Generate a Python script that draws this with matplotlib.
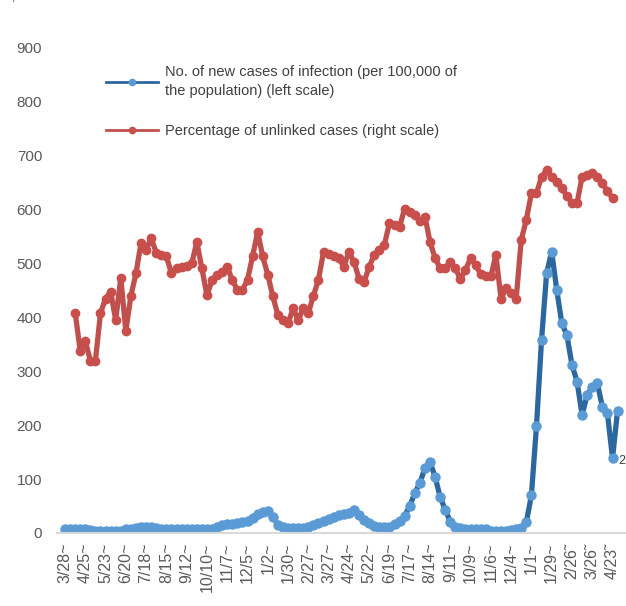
import matplotlib
matplotlib.use("Agg")
import matplotlib.pyplot as plt

plt.rcParams["font.family"] = ["Liberation Sans", "DejaVu Sans"]

# weekly data, week 0 = 3/28
tick_labels = ["3/28~", "4/25~", "5/23~", "6/20~", "7/18~", "8/15~", "9/12~",
               "10/10~", "11/7~", "12/5~", "1/2~", "1/30~", "2/27~", "3/27~",
               "4/24~", "5/22~", "6/19~", "7/17~", "8/14~", "9/11~", "10/9~",
               "11/6~", "12/4~", "1/1~", "1/29~", "2/26\u02dc", "3/26\u02dc", "4/23\u02dc"]

new_cases = [8, 8, 8, 8, 8, 5, 3, 3, 3, 4,
             4, 4, 7, 8, 10, 12, 12, 12, 10, 8,
             7, 7, 7, 7, 7, 7, 7, 7, 7, 8,
             12, 15, 17, 17, 18, 20, 22, 28, 35, 38,
             40, 30, 15, 11, 10, 10, 10, 10, 11, 14,
             18, 22, 26, 30, 33, 35, 37, 42, 33, 25,
             18, 13, 11, 11, 12, 16, 22, 32, 50, 74,
             93, 120, 132, 104, 67, 43, 21, 12, 9, 8,
             7, 7, 7, 7, 4, 3, 3, 3, 6, 7,
             10, 20, 70, 198, 358, 482, 522, 451, 389, 367,
             312, 281, 219, 256, 271, 278, 234, 222, 139, 227]

unlinked_start = 2
unlinked = [409, 338, 356, 320, 320, 408, 435, 448, 395, 473,
            375, 440, 482, 538, 525, 547, 520, 515, 513, 482,
            492, 494, 496, 500, 540, 491, 441, 469, 479, 485,
            494, 469, 451, 451, 470, 513, 559, 513, 479, 439,
            404, 395, 389, 417, 395, 417, 408, 440, 470, 522,
            518, 513, 510, 494, 522, 503, 472, 466, 494, 516,
            525, 535, 575, 572, 568, 602, 595, 590, 578, 587,
            540, 510, 491, 491, 503, 491, 471, 488, 510, 497,
            480, 476, 476, 516, 435, 454, 445, 435, 544, 581,
            630, 630, 661, 673, 660, 652, 640, 625, 612, 612,
            661, 664, 667, 660, 649, 634, 622]

x_blue = list(range(len(new_cases)))
x_red = list(range(unlinked_start, unlinked_start + len(unlinked)))

fig = plt.figure(figsize=(6.26, 6.06), dpi=100)
ax = fig.add_axes([0.0917, 0.1205, 0.907, 0.8894])

ax.plot(x_red, unlinked, color="#C0504D", lw=3.8, marker="o", ms=6,
        mfc="#C94F4C", mec="#C94F4C",
        label="Percentage of unlinked cases (right scale)")
ax.plot(x_blue, new_cases, color="#2C679F", lw=3.8, marker="o", ms=6.5,
        mfc="#5B9BD5", mec="#5B9BD5",
        label="No. of new cases of infection (per 100,000 of\nthe population) (left scale)")
ax.annotate("2", (x_blue[108], new_cases[108]), xytext=(4, -2),
            textcoords="offset points", fontsize=9, color="#404040", va="center")

ax.set_xlim(-1.5, 110.5)
ax.set_ylim(0, 1000)
ax.set_yticks(range(0, 1001, 100))
ax.set_yticklabels([f"{v:,}" for v in range(0, 1001, 100)])
ax.set_xticks(range(0, len(tick_labels) * 4, 4))
ax.set_xticklabels(tick_labels, rotation=90)
ax.tick_params(axis="y", length=0, pad=11, labelsize=11, labelcolor="#595959")
ax.tick_params(axis="x", length=0, pad=7, labelsize=11.5, labelcolor="#595959")

for s in ["top", "right", "left"]:
    ax.spines[s].set_visible(False)
ax.spines["bottom"].set_color("#D9D9D9")
ax.spines["bottom"].set_linewidth(1.5)

handles, labels = ax.get_legend_handles_labels()
leg = ax.legend(handles[::-1], labels[::-1], loc="upper left",
                bbox_to_anchor=(0.072, 0.882), frameon=False, fontsize=10.5,
                handlelength=3.6, handletextpad=0.5, labelspacing=1.8,
                borderpad=0, labelcolor="#404040")
for t in leg.get_texts():
    t.set_linespacing(1.45)
for ln in leg.get_lines():
    ln.set_linewidth(2)
    ln.set_markersize(4.5)

fig.savefig("out.png", dpi=100)
